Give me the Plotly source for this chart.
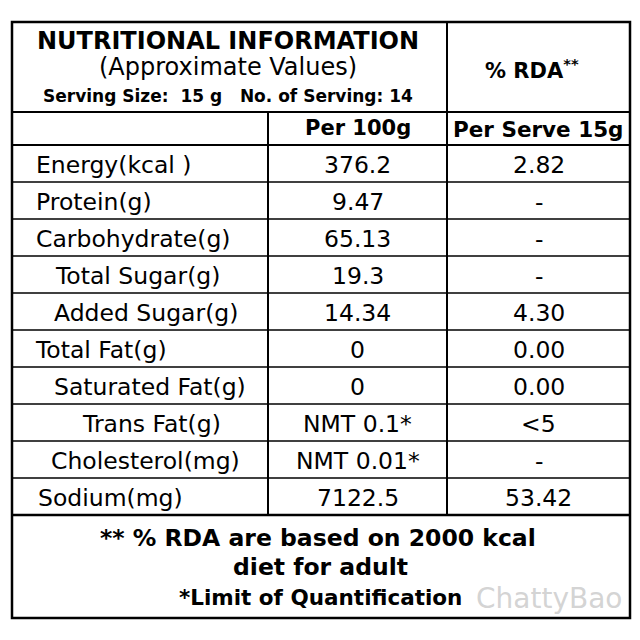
import plotly.graph_objects as go

nutrients = ["Energy(kcal )", "Protein(g)", "Carbohydrate(g)", "Total Sugar(g)", "Added Sugar(g)",
             "Total Fat(g)", "Saturated Fat(g)", "Trans Fat(g)", "Cholesterol(mg)", "Sodium(mg)"]
per_100g = ["376.2", "9.47", "65.13", "19.3", "14.34", "0", "0", "NMT 0.1*", "NMT 0.01*", "7122.5"]
per_serve = ["2.82", "-", "-", "-", "4.30", "0.00", "0.00", "<5", "-", "53.42"]
col_headers = ["Per 100g", "Per Serve 15g"]

# style: label left offsets
indent = [34, 34, 34, 53, 52, 33, 52, 80, 49, 36]

L, R, T, B = 12, 630, 22, 618
C1, C2 = 268, 447
H1, H2 = 112, 145
RH = 37
nrows = len(nutrients)
FOOT = H2 + RH * nrows

fig = go.Figure()
fig.add_trace(go.Scatter(x=[0], y=[0], mode="markers", marker=dict(opacity=0), hoverinfo="skip"))
shapes = []
def line(x0, y0, x1, y1, w=2):
    shapes.append(dict(type="line", x0=x0, y0=y0, x1=x1, y1=y1, line=dict(color="black", width=w)))
shapes.append(dict(type="rect", x0=L, y0=T, x1=R, y1=B, line=dict(color="black", width=2.5)))
line(L, H1, R, H1)
line(L, H2, R, H2)
line(C2, T, C2, FOOT)
line(C1, H1, C1, FOOT)
for i in range(1, nrows):
    line(L, H2 + RH * i, R, H2 + RH * i, 1.5)
line(L, FOOT, R, FOOT, 2.5)

F = "DejaVu Sans, Verdana, sans-serif"
ann = []
def txt(x, y, s, size=21, anchor="center", color="black"):
    ann.append(dict(x=x, y=y, text=s, showarrow=False, xanchor=anchor, yanchor="middle",
                    font=dict(family=F, size=size, color=color)))
txt(228, 41, "<b>NUTRITIONAL INFORMATION</b>", 24)
txt(228, 67, "(Approximate Values)", 24)
txt(228, 96, "<b>Serving Size:  15 g   No. of Serving: 14</b>", 17)
txt(532, 69, "<b>% RDA</b><sup><b>**</b></sup>", 21)
txt((C1 + C2) / 2, 128, "<b>" + col_headers[0] + "</b>", 21)
txt((C2 + R) / 2, 129, "<b>" + col_headers[1] + "</b>", 21.5)
for i in range(nrows):
    y = H2 + RH * i + RH / 2 + 1
    txt(indent[i], y, nutrients[i], 23.5, "left")
    txt((C1 + C2) / 2, y, per_100g[i], 23.5)
    txt((C2 + R) / 2, y, per_serve[i], 23.5)
txt(318, 538, "<b>** % RDA are based on 2000 kcal</b>", 23.5)
txt(320, 567, "<b>diet for adult</b>", 23.5)
txt(320, 597, "<b>*Limit of Quantification</b>", 21.5)
txt(549, 598, "ChattyBao", 28, color="rgba(200,200,200,0.8)")

fig.update_layout(width=640, height=640, margin=dict(l=0, r=0, t=0, b=0),
                  paper_bgcolor="white", plot_bgcolor="white", showlegend=False,
                  shapes=shapes, annotations=ann,
                  xaxis=dict(range=[8, 648], visible=False, fixedrange=True),
                  yaxis=dict(range=[648, 8], visible=False, fixedrange=True))
fig.write_html("out.html")
